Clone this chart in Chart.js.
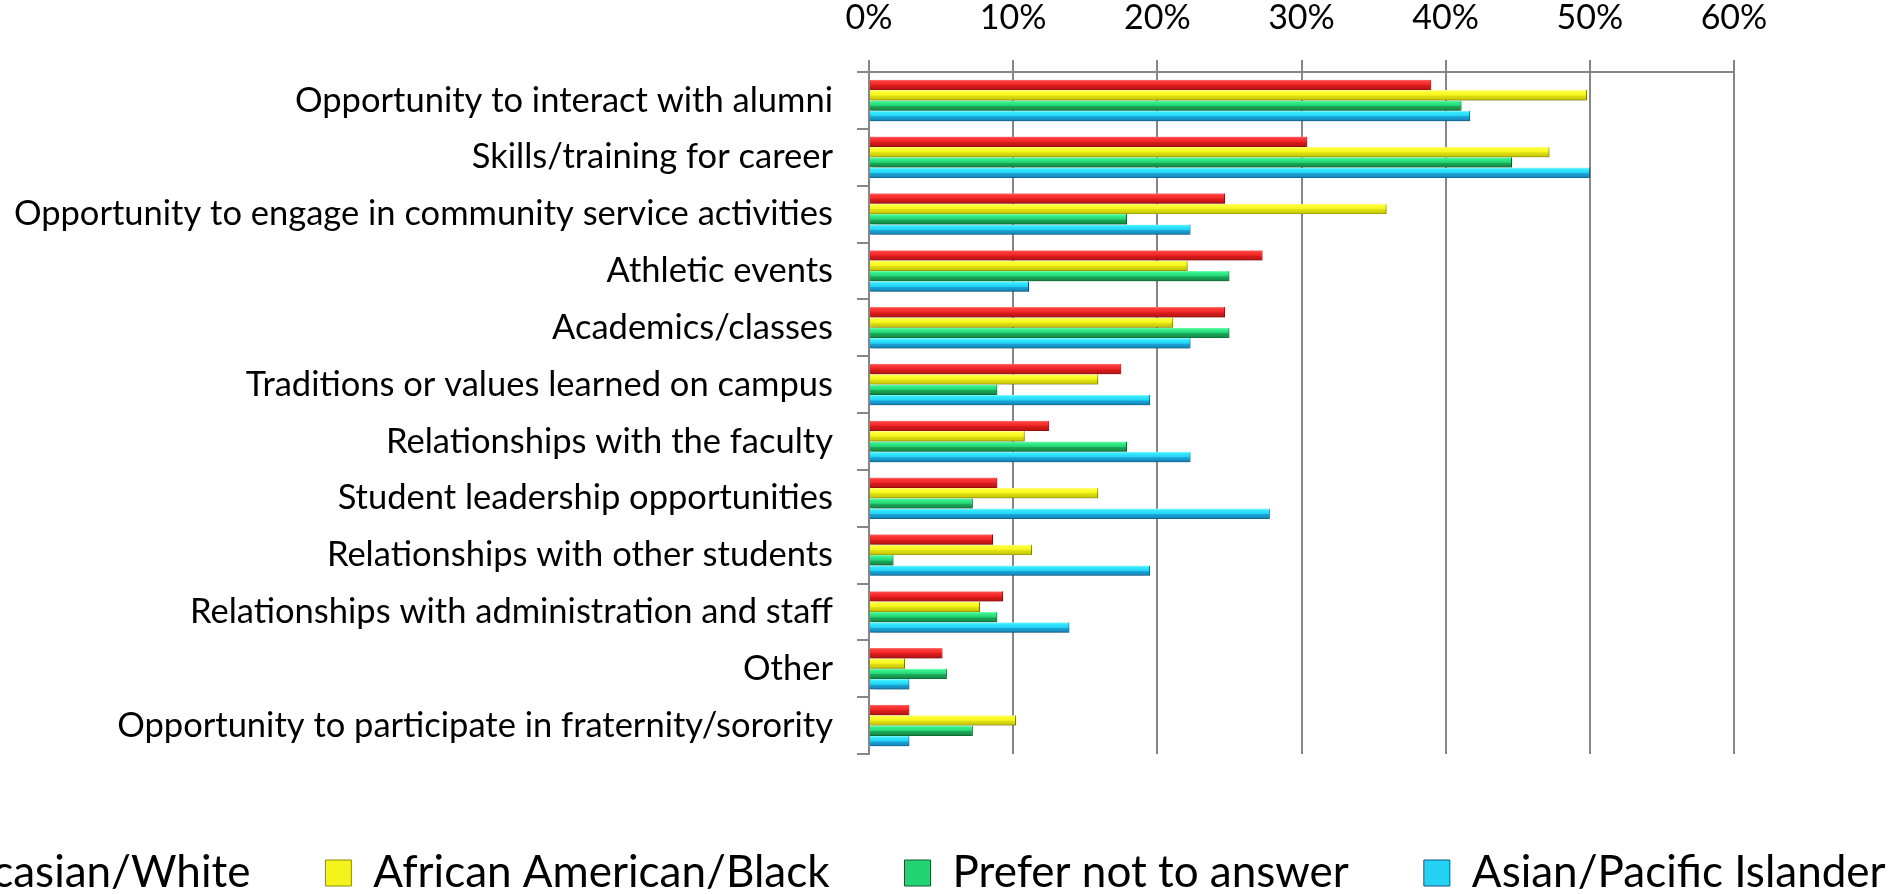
<!DOCTYPE html>
<html>
<head>
<meta charset="utf-8">
<script src="https://cdn.jsdelivr.net/npm/chart.js@4"></script>
<style>
  html, body { margin: 0; padding: 0; background: #fff; overflow: hidden; }
  /* a legenda original passa da borda esquerda: canvas mais largo que a janela */
  #wrap { position: absolute; left: -323px; top: 0; width: 2400px; height: 905px; }
</style>
</head>
<body>
<div id="wrap"><canvas id="grafico"></canvas></div>
<script>
// categorias (de cima para baixo) e séries em %
const categorias = [
  'Opportunity to interact with alumni',
  'Skills/training for career',
  'Opportunity to engage in community service activities',
  'Athletic events',
  'Academics/classes',
  'Traditions or values learned on campus',
  'Relationships with the faculty',
  'Student leadership opportunities',
  'Relationships with other students',
  'Relationships with administration and staff',
  'Other',
  'Opportunity to participate in fraternity/sorority',
];
const caucasian = [39.0, 30.4, 24.7, 27.3, 24.7, 17.5, 12.5, 8.9, 8.6, 9.3, 5.1, 2.8];
const africanAmerican = [49.8, 47.2, 35.9, 22.1, 21.1, 15.9, 10.8, 15.9, 11.3, 7.7, 2.5, 10.2];
const preferNot = [41.1, 44.6, 17.9, 25.0, 25.0, 8.9, 17.9, 7.2, 1.7, 8.9, 5.4, 7.2];
const asianPacific = [41.7, 50.0, 22.3, 11.1, 22.3, 19.5, 22.3, 27.8, 19.5, 13.9, 2.8, 2.8];
const ticksPct = [0, 10, 20, 30, 40, 50, 60];

const FONTE = 'Lato, "Open Sans", sans-serif';
const CAT_PCT = 0.73;
const CINZA = '#868686';

// degradê vertical de cada barra, imitando o bisel do Excel
function bisel(cores) {
  return (c) => {
    const chart = c.chart, area = chart.chartArea;
    if (!area || c.type !== 'data' || !chart.scales.y) return cores[2];
    const n = categorias.length;
    const catH = (area.bottom - area.top) / n;
    const barH = catH * CAT_PCT / 4;
    const top = chart.scales.y.getPixelForValue(c.dataIndex) - catH * CAT_PCT / 2 + c.datasetIndex * barH;
    const g = chart.ctx.createLinearGradient(0, top, 0, top + barH);
    g.addColorStop(0, cores[0]);
    g.addColorStop(0.15, cores[1]);
    g.addColorStop(0.5, cores[2]);
    g.addColorStop(0.56, cores[3]);
    g.addColorStop(0.85, cores[4]);
    g.addColorStop(1, cores[5]);
    return g;
  };
}
const corVermelho = ['#ff8080', '#ff3c3c', '#f02424', '#d81c1c', '#c21616', '#8a0c0c'];
const corAmarelo = ['#ffffa0', '#ffff38', '#f4f41c', '#e0e012', '#cccc0a', '#8c8c00'];
const corVerde = ['#8affb8', '#36f28c', '#24d474', '#1aab58', '#16904a', '#0c5c2c'];
const corAzul = ['#9af8ff', '#36ecff', '#24d2f6', '#1aa8d8', '#168cc0', '#0c5a84'];

const series = [
  { label: 'Caucasian/White', data: caucasian, cores: corVermelho },
  { label: 'African American/Black', data: africanAmerican, cores: corAmarelo },
  { label: 'Prefer not to answer', data: preferNot, cores: corVerde },
  { label: 'Asian/Pacific Islander', data: asianPacific, cores: corAzul },
];

const sombra = {
  id: 'sombra',
  beforeDatasetsDraw(chart) {
    const ctx = chart.ctx;
    ctx.save();
    ctx.shadowColor = 'rgba(0,0,0,0.28)';
    ctx.shadowBlur = 4;
    ctx.shadowOffsetX = 3;
    ctx.shadowOffsetY = 3;
  },
  afterDatasetsDraw(chart) { chart.ctx.restore(); },
};

// eixo "vazio" só para reservar espaço (margem direita / folga acima da legenda)
const espaco = (pos, tam) => ({
  type: 'linear',
  position: pos,
  display: true,
  ticks: { display: false },
  grid: { display: false },
  border: { display: false },
  afterFit: (s) => { if (pos === 'right') s.width = tam; else s.height = tam; },
});

new Chart(document.getElementById('grafico'), {
  type: 'bar',
  data: {
    labels: categorias,
    datasets: series.map(s => ({
      label: s.label,
      data: s.data,
      backgroundColor: bisel(s.cores),
      borderColor: s.cores[5],
      borderWidth: { top: 0, left: 0, right: 1, bottom: 0 },
      borderSkipped: 'start',
      categoryPercentage: CAT_PCT,
      barPercentage: 1.0,
    })),
  },
  options: {
    indexAxis: 'y',
    responsive: true,
    maintainAspectRatio: false,
    animation: false,
    layout: { padding: 0 },
    plugins: {
      tooltip: { enabled: false },
      legend: {
        position: 'bottom',
        labels: {
          font: { family: FONTE, size: 44 },
          color: '#000',
          boxWidth: 26,
          boxHeight: 26,
          padding: 75,
          generateLabels: () => series.map((s, i) => ({
            text: s.label,
            fillStyle: s.cores[2],
            strokeStyle: s.cores[5],
            lineWidth: 1,
            hidden: false,
            datasetIndex: i,
          })),
        },
      },
    },
    scales: {
      x: {
        position: 'top',
        min: 0,
        max: 60,
        afterBuildTicks: (s) => { s.ticks = ticksPct.map(v => ({ value: v })); },
        ticks: {
          callback: (v) => v + '%',
          font: { family: FONTE, size: 34 },
          color: '#000',
          padding: 22,
        },
        grid: { color: CINZA, lineWidth: 2, tickLength: 12 },
        border: { color: CINZA, width: 2 },
        afterFit: (s) => { s.height = 72; },
      },
      y: {
        ticks: {
          font: { family: FONTE, size: 34.5 },
          color: '#000',
          padding: 24,
          autoSkip: false,
        },
        grid: { drawOnChartArea: false, color: CINZA, lineWidth: 2, tickLength: 12, offset: true },
        border: { color: CINZA, width: 2 },
        afterFit: (s) => { s.width = 1192; },
      },
      y2: espaco('right', 343),
      x2: espaco('bottom', 22),
    },
  },
  plugins: [sombra],
});
</script>
</body>
</html>
